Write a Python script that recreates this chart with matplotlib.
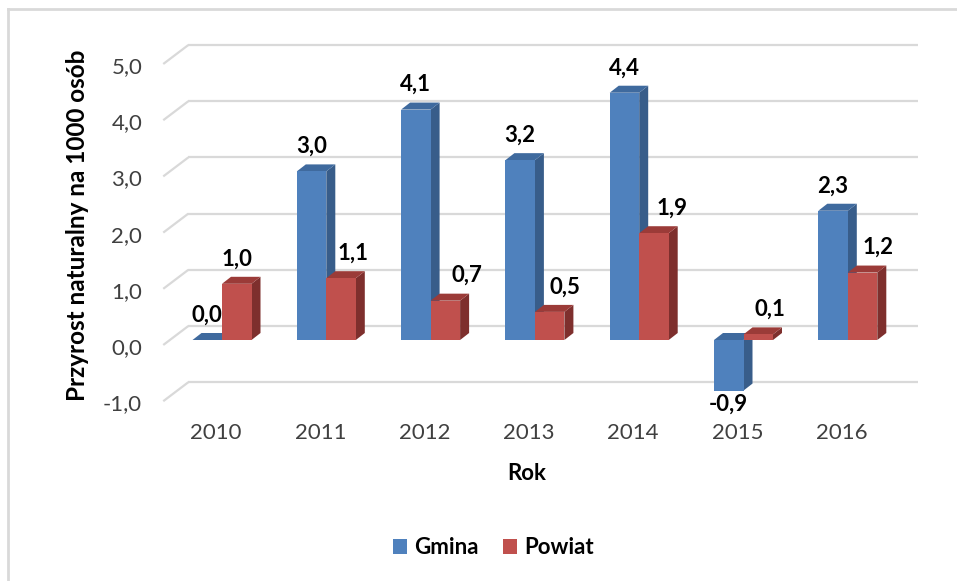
import matplotlib
matplotlib.use('Agg')
import matplotlib.pyplot as plt
from matplotlib.patches import Polygon, Patch
from matplotlib.lines import Line2D

# data
years = ['2010', '2011', '2012', '2013', '2014', '2015', '2016']
gmina = [0.0, 3.0, 4.1, 3.2, 4.4, -0.9, 2.3]
powiat = [1.0, 1.1, 0.7, 0.5, 1.9, 0.1, 1.2]
yticks = [-1, 0, 1, 2, 3, 4, 5]

# Excel-like 3D styling
blue = ('#4F81BD', '#385D8A', '#3F6A9E')   # front, side, top
red = ('#C0504D', '#7E2F2D', '#9B3B38')
grid_col = '#D9D9D9'
plt.rcParams['font.family'] = ['Lato', 'DejaVu Sans']
fs = 16

W, H = 957, 581
cat_px = 104.3      # pixels between categories
unit_px = 56.2      # pixels per 1.0
x0_px, y0_px = 222, 340   # pair centre of first category, value 0
xlim = (-0.9, 6.9)
ylim = (-1.6, 5.8)

fig = plt.figure(figsize=(W / 100, H / 100), dpi=100)
left = x0_px + xlim[0] * cat_px
top = y0_px - ylim[1] * unit_px
ax = fig.add_axes([left / W, 1 - (top + (ylim[1] - ylim[0]) * unit_px) / H,
                   (xlim[1] - xlim[0]) * cat_px / W,
                   (ylim[1] - ylim[0]) * unit_px / H])
ax.set_xlim(*xlim)
ax.set_ylim(*ylim)
ax.axis('off')


def dx(p):
    return p / cat_px


def dy(p):
    return p / unit_px


# depth of the floor (px): front edge -> back wall
front_off = (-6.6, -5.0)
back_off = (18.5, 14.0)
bar_depth = (9.0, 7.0)
bw = 29.5 / cat_px

# gridlines: back wall + left diagonal
for v in yticks:
    xb0, xb1 = -0.5 + dx(back_off[0]), 6.5 + dx(back_off[0])
    yb = v + dy(back_off[1])
    ax.plot([xb0, xb1], [yb, yb], color=grid_col, lw=1.6, zorder=1,
            solid_capstyle='butt')
    xf = -0.5 + dx(front_off[0])
    yf = v + dy(front_off[1])
    ax.plot([xf, xb0], [yf, yb], color=grid_col, lw=1.6, zorder=1,
            solid_capstyle='butt')
    ax.text(xf - dx(21), yf - dy(3), f'{v:.1f}'.replace('.', ','),
            ha='right', va='center', fontsize=fs, color='#404040')


def bar3d(xl, v, cols, z):
    xr = xl + bw
    ddx, ddy = dx(bar_depth[0]), dy(bar_depth[1])
    lo, hi = min(v, 0), max(v, 0)
    side = Polygon([(xr, lo), (xr, hi), (xr + ddx, hi + ddy), (xr + ddx, lo + ddy)],
                   closed=True, facecolor=cols[1], edgecolor='none', zorder=z)
    topf = Polygon([(xl, hi), (xr, hi), (xr + ddx, hi + ddy), (xl + ddx, hi + ddy)],
                   closed=True, facecolor=cols[2], edgecolor='none', zorder=z)
    ax.add_patch(side)
    ax.add_patch(topf)
    ax.bar(xl, v, width=bw, align='edge', color=cols[0], zorder=z + 0.1)


red_label_shift = [0, 12, 22, 15, 18, 12, 15]

for i, (g, p) in enumerate(zip(gmina, powiat)):
    bar3d(i - bw, g, blue, 3 + i * 0.5)
    bar3d(i, p, red, 3.2 + i * 0.5)
    for xc, v, sh in ((i - bw / 2, g, 0), (i + bw / 2, p, red_label_shift[i])):
        ly = v + dy(25) if v >= 0 else v - dy(14)
        ax.text(xc + dx(sh), ly, f'{v:.1f}'.replace('.', ','), ha='center',
                va='center', fontsize=fs, fontweight='bold', color='black',
                zorder=10)
    ax.text(i - dx(6), -dy(93), years[i], ha='center', va='center',
            fontsize=fs, color='#404040')

fig.text(527 / W, 1 - 473 / H, 'Rok', ha='center', va='center',
         fontsize=fs, fontweight='bold', color='black')
fig.text(78 / W, 1 - 225 / H, 'Przyrost naturalny na 1000 osób', rotation=90,
         ha='center', va='center', fontsize=17.5, fontweight='bold', color='black')

handles = [Patch(facecolor=blue[0], label='Gmina'),
           Patch(facecolor=red[0], label='Powiat')]
fig.legend(handles=handles, loc='center', bbox_to_anchor=(493 / W, 1 - 548 / H),
           ncol=2, frameon=False, handlelength=0.65, handleheight=0.65,
           handletextpad=0.3, columnspacing=1.1,
           prop={'family': 'Lato', 'weight': 'bold', 'size': fs})

# chart border
fig.add_artist(Line2D([8 / W, 8 / W], [0, 1 - 9 / H], color=grid_col, lw=2))
fig.add_artist(Line2D([8 / W, 1], [1 - 9 / H, 1 - 9 / H], color=grid_col, lw=2))

fig.savefig('out.png', dpi=100)
